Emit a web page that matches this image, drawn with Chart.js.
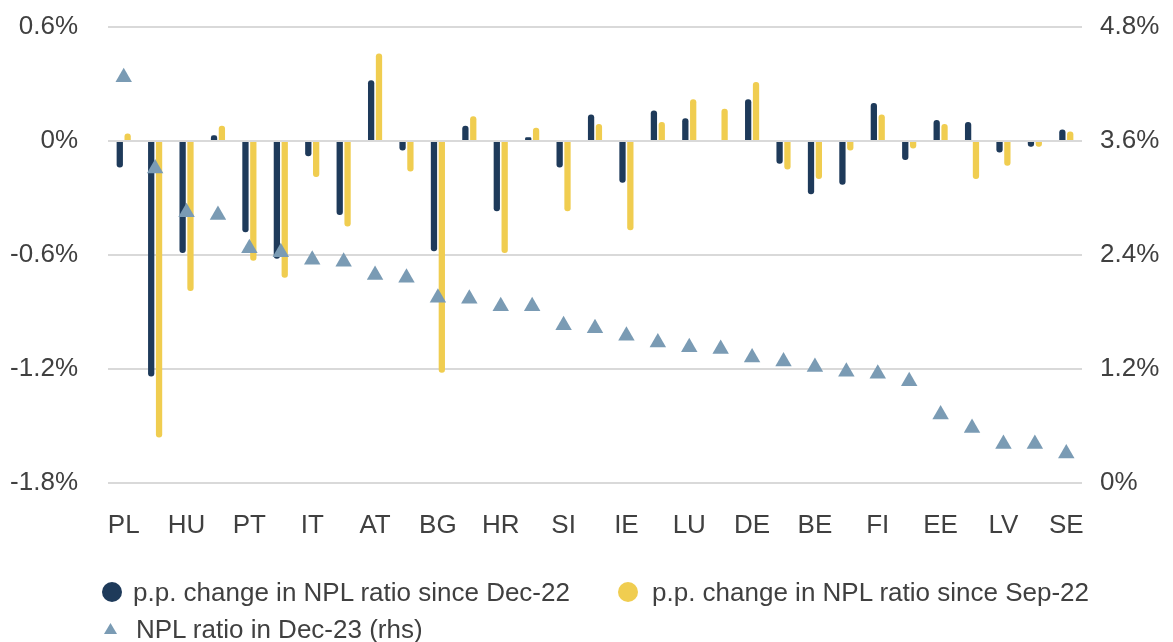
<!DOCTYPE html>
<html>
<head>
<meta charset="utf-8">
<script src="https://cdn.jsdelivr.net/npm/chart.js@4.4.1/dist/chart.umd.min.js"></script>
<style>
html,body{margin:0;padding:0;background:#ffffff;}
#wrap{position:relative;width:1173px;height:642px;overflow:hidden;background:#fff;}
#chart{position:absolute;left:0;top:0;}
.lg{position:absolute;font-family:"Liberation Sans",Arial,sans-serif;font-size:26px;line-height:30px;color:#404040;white-space:nowrap;}
.dot{position:absolute;width:20px;height:20px;border-radius:50%;}
.tri{position:absolute;}
</style>
</head>
<body>
<div id="wrap">
<canvas id="chart" width="1173" height="642"></canvas>
<div class="dot" style="left:102px;top:582px;background:#1e3a5a"></div>
<div class="lg" style="left:133px;top:577px">p.p. change in NPL ratio since Dec-22</div>
<div class="dot" style="left:618px;top:582px;background:#f0cd50"></div>
<div class="lg" style="left:652px;top:577px">p.p. change in NPL ratio since Sep-22</div>
<svg class="tri" style="left:104px;top:623px" width="13" height="12"><polygon points="6.5,0 13,11 0,11" fill="#7a9bb4"/></svg>
<div class="lg" style="left:136px;top:614px">NPL ratio in Dec-23 (rhs)</div>
</div>
<script>
const categories = ['PL','GR','HU','CY','PT','RO','IT','ES','AT','FR','BG','SK','HR','CZ','SI','MT','IE','LT','LU','EA','DE','EU','BE','NL','FI','DK','EE','NO','LV','IS','SE'];
const changeSinceDec22 = [-0.14,-1.24,-0.59,0.03,-0.48,-0.62,-0.08,-0.39,0.32,-0.05,-0.58,0.08,-0.37,0.02,-0.14,0.14,-0.22,0.16,0.12,0.005,0.22,-0.12,-0.28,-0.23,0.20,-0.10,0.11,0.10,-0.06,-0.03,0.06];
const changeSinceSep22 = [0.04,-1.56,-0.79,0.08,-0.63,-0.72,-0.19,-0.45,0.46,-0.16,-1.22,0.13,-0.59,0.07,-0.37,0.09,-0.47,0.10,0.22,0.17,0.31,-0.15,-0.20,-0.05,0.14,-0.04,0.09,-0.20,-0.13,-0.03,0.05];
const nplRatioDec23 = [4.27,3.31,2.85,2.82,2.47,2.43,2.35,2.33,2.19,2.16,1.95,1.94,1.86,1.86,1.66,1.63,1.55,1.48,1.43,1.41,1.32,1.28,1.22,1.17,1.15,1.07,0.72,0.58,0.41,0.41,0.31];
const leftTicks = [-1.8,-1.2,-0.6,0,0.6];
const rightTicks = [0,1.2,2.4,3.6,4.8];
const seriesNames = ['p.p. change in NPL ratio since Dec-22','p.p. change in NPL ratio since Sep-22','NPL ratio in Dec-23 (rhs)'];

const FONT = {family:'"Liberation Sans", Arial, sans-serif', size:26};
const TXT = '#404040';
const fmt = v => (Math.abs(v) < 1e-9 ? '0' : (Math.round(v*10)/10).toFixed(1)) + '%';

new Chart(document.getElementById('chart'), {
  data: {
    labels: categories,
    datasets: [
      {type:'line', label:seriesNames[2], data:nplRatioDec23, yAxisID:'y2', showLine:false,
       pointStyle:'triangle', pointRadius:9.5, pointHoverRadius:9.5, pointBackgroundColor:'#7a9bb4',
       pointBorderWidth:0, borderColor:'#7a9bb4', backgroundColor:'#7a9bb4', order:0},
      {type:'bar', label:seriesNames[0], data:changeSinceDec22, yAxisID:'y', backgroundColor:'#1e3a5a',
       borderRadius:3, categoryPercentage:0.5, barPercentage:0.8, order:1},
      {type:'bar', label:seriesNames[1], data:changeSinceSep22, yAxisID:'y', backgroundColor:'#f0cd50',
       borderRadius:3, categoryPercentage:0.5, barPercentage:0.8, order:1}
    ]
  },
  options: {
    responsive:false, animation:false,
    layout:{padding:{top:27, bottom:101, left:0, right:0}},
    plugins:{legend:{display:false}, tooltip:{enabled:false}},
    scales:{
      x:{
        grid:{display:false, drawTicks:false}, border:{display:false},
        ticks:{autoSkip:false, maxRotation:0, padding:27, color:TXT, font:FONT,
               callback:function(v,i){ return i % 2 === 0 ? categories[i] : ''; }},
        afterFit:function(s){ s.height = 58; s.paddingLeft = 0; s.paddingRight = 0; }
      },
      y:{
        position:'left', min:leftTicks[0], max:leftTicks[leftTicks.length-1],
        afterBuildTicks:function(s){ s.ticks = leftTicks.map(v=>({value:v})); },
        grid:{color:'#d9d9d9', lineWidth:2, drawTicks:false}, border:{display:false},
        ticks:{padding:30, color:TXT, font:FONT, callback:v=>fmt(v)},
        afterFit:function(s){ s.width = 108; s.paddingTop = 0; s.paddingBottom = 0; }
      },
      y2:{
        position:'right', min:rightTicks[0], max:rightTicks[rightTicks.length-1],
        afterBuildTicks:function(s){ s.ticks = rightTicks.map(v=>({value:v})); },
        grid:{display:false, drawTicks:false}, border:{display:false},
        ticks:{padding:18, color:TXT, font:FONT, callback:v=>fmt(v)},
        afterFit:function(s){ s.width = 91; s.paddingTop = 0; s.paddingBottom = 0; }
      }
    }
  }
});
</script>
</body>
</html>
